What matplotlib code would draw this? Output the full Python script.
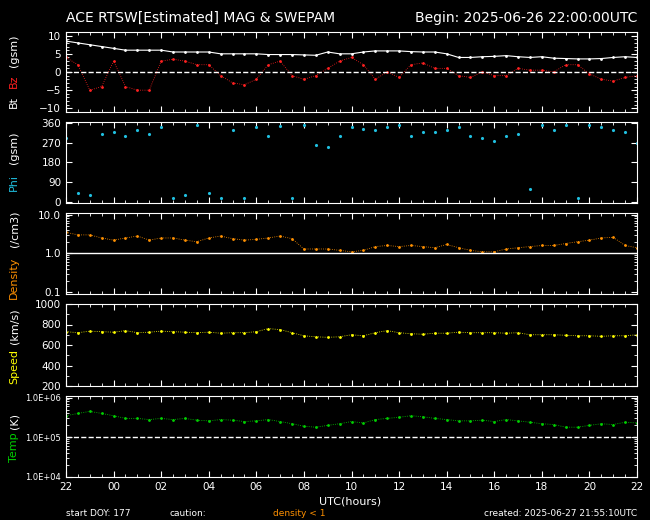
import numpy as np
import matplotlib
matplotlib.use("Agg")
import matplotlib.pyplot as plt
from matplotlib.ticker import AutoMinorLocator, LogLocator, NullFormatter

# hours since 2025-06-26 22:00 UTC, half-hour samples
HOURS = np.arange(0, 24.01, 0.5)
X_TICKS = [0, 2, 4, 6, 8, 10, 12, 14, 16, 18, 20, 22, 24]
X_LABELS = ["22", "00", "02", "04", "06", "08", "10", "12", "14", "16", "18", "20", "22"]

BT = [8.5, 8, 7.5, 7, 6.5, 6, 6, 6, 6, 5.5, 5.5, 5.5, 5.5, 5, 5, 5, 5, 4.8, 4.8, 4.8,
      4.7, 4.6, 5.5, 5, 5, 5.5, 5.8, 5.8, 5.8, 5.6, 5.5, 5.5, 5, 4, 4, 4.2, 4.3, 4.5,
      4.2, 4, 4.2, 3.8, 3.7, 3.6, 3.6, 3.7, 4, 4.2, 4]
BZ = [4, 2, -5, -4, 3, -4, -5, -5, 3, 3.5, 3, 2, 2, -1, -3, -3.5, -2, 2, 3, -1,
      -2, -1, 1, 3, 4, 2, -2, 0, -1.5, 2, 2.5, 1, 1, -1, -1.5, 0, -1, -1, 1, 0.5,
      0.5, 0, 2, 2, -0.5, -2, -2.5, -1.5, -1]
PHI = [290, 40, 30, 310, 320, 300, 330, 310, 340, 20, 30, 350, 40, 20, 330, 20, 340, 300,
       345, 20, 350, 260, 250, 300, 340, 335, 330, 340, 350, 300, 320, 320, 330, 340, 300,
       290, 280, 300, 310, 60, 350, 330, 350, 20, 350, 340, 330, 320, 270]
DENSITY = [3.5, 3, 3, 2.5, 2.2, 2.5, 2.8, 2.2, 2.5, 2.5, 2.2, 2, 2.5, 2.8, 2.4, 2.2, 2.3,
           2.5, 2.8, 2.4, 1.3, 1.3, 1.3, 1.2, 1.1, 1.2, 1.5, 1.6, 1.5, 1.6, 1.5, 1.4, 1.7,
           1.4, 1.2, 1.1, 1.1, 1.3, 1.4, 1.5, 1.6, 1.6, 1.8, 2.0, 2.2, 2.5, 2.6, 1.6, 1.4]
SPEED = [730, 720, 735, 730, 725, 740, 720, 725, 735, 730, 725, 720, 725, 715, 720, 720,
         730, 760, 750, 720, 690, 680, 675, 680, 700, 690, 720, 740, 720, 710, 705, 715,
         715, 725, 720, 720, 720, 715, 720, 700, 700, 700, 695, 690, 690, 685, 690, 690, 700]
TEMP = [3.5e5, 4e5, 4.5e5, 4e5, 3.5e5, 3e5, 3e5, 2.8e5, 3e5, 2.8e5, 3e5, 2.7e5, 2.6e5,
        2.8e5, 2.7e5, 2.5e5, 2.6e5, 2.8e5, 2.5e5, 2.2e5, 1.9e5, 1.8e5, 2e5, 2.2e5, 2.5e5,
        2.3e5, 2.8e5, 3e5, 3.2e5, 3.5e5, 3.3e5, 3e5, 2.8e5, 2.6e5, 2.6e5, 2.7e5, 2.5e5,
        2.8e5, 2.6e5, 2.4e5, 2.2e5, 2.1e5, 1.8e5, 1.8e5, 2e5, 2.2e5, 2.1e5, 2.4e5, 2.3e5]

W, H = 650, 520
fig = plt.figure(figsize=(6.5, 5.2), dpi=100, facecolor="black")
plt.rcParams["font.family"] = "DejaVu Sans"

def make_ax(top, bottom):
    ax = fig.add_axes([66 / W, 1 - bottom / H, (637 - 66) / W, (bottom - top) / H])
    ax.set_facecolor("black")
    for s in ax.spines.values():
        s.set_color("white")
    ax.set_xlim(0, 24)
    ax.set_xticks(X_TICKS)
    ax.xaxis.set_minor_locator(AutoMinorLocator(4))
    ax.tick_params(colors="white", which="both", direction="in", top=True, right=True,
                   labelsize=7.5, length=4)
    ax.tick_params(which="minor", length=2)
    ax.set_xticklabels([])
    return ax

def ylabel(parts, y_mid):
    # stacked vertical label made of coloured pieces
    widths = [len(t) * 6.3 for t, _ in parts]
    gap = 8
    y = y_mid + (sum(widths) + gap * (len(parts) - 1)) / 2
    for (txt, col), w in zip(parts, widths):
        fig.text(14 / W, 1 - y / H, txt, color=col, rotation=90, fontsize=8,
                 va="bottom", ha="center")
        y -= w + gap

red, cyan, orange, yellow, green = "#ff2020", "#20c0e0", "#ff9000", "#ffff00", "#00d000"

ax1 = make_ax(32, 112)
ax1.plot(HOURS, BT, color="white", lw=0.8, marker=".", ms=2)
ax1.plot(HOURS, BZ, color=red, lw=0.6, marker=".", ms=2, ls=":")
ax1.axhline(0, color="white", ls="--", lw=1)
ax1.set_ylim(-11, 11)
ax1.set_yticks([-10, -5, 0, 5, 10])
ax1.yaxis.set_minor_locator(AutoMinorLocator(5))
ylabel([("Bt", "white"), ("Bz", red), ("(gsm)", "white")], 72)

ax2 = make_ax(122, 203)
ax2.plot(HOURS, PHI, ".", color=cyan, ms=2.5)
ax2.set_ylim(-5, 365)
ax2.set_yticks([0, 90, 180, 270, 360])
ylabel([("Phi", cyan), ("(gsm)", "white")], 162)

ax3 = make_ax(213, 294)
ax3.plot(HOURS, DENSITY, color=orange, lw=0.6, marker=".", ms=2, ls=":")
ax3.set_yscale("log")
ax3.set_ylim(0.09, 11)
ax3.axhline(1.0, color="white", lw=1)
ax3.set_yticks([0.1, 1.0, 10.0])
ax3.set_yticklabels(["0.1", "1.0", "10.0"])
ax3.yaxis.set_minor_locator(LogLocator(subs=np.arange(2, 10)))
ax3.yaxis.set_minor_formatter(NullFormatter())
ylabel([("Density", orange), ("(/cm3)", "white")], 254)

ax4 = make_ax(304, 386)
ax4.plot(HOURS, SPEED, color=yellow, lw=0.6, marker=".", ms=2, ls=":")
ax4.set_ylim(200, 1000)
ax4.set_yticks([200, 400, 600, 800, 1000])
ax4.yaxis.set_minor_locator(AutoMinorLocator(2))
ylabel([("Speed", yellow), ("(km/s)", "white")], 345)

ax5 = make_ax(396, 477)
ax5.plot(HOURS, TEMP, color=green, lw=0.6, marker=".", ms=2, ls=":")
ax5.set_yscale("log")
ax5.set_ylim(1e4, 1.1e6)
ax5.axhline(1e5, color="white", ls="--", lw=1)
ax5.set_yticks([1e4, 1e5, 1e6])
ax5.set_yticklabels(["1.0E+04", "1.0E+05", "1.0E+06"], fontsize=6)
ax5.yaxis.set_minor_locator(LogLocator(subs=np.arange(2, 10)))
ax5.yaxis.set_minor_formatter(NullFormatter())
ax5.set_xticklabels(X_LABELS)
ylabel([("Temp", green), ("(K)", "white")], 436)

fig.text(66 / W, 1 - 18 / H, "ACE RTSW[Estimated] MAG & SWEPAM", color="white", fontsize=10, va="center")
fig.text(637 / W, 1 - 18 / H, "Begin: 2025-06-26 22:00:00UTC", color="white", fontsize=10,
         va="center", ha="right")
fig.text(350 / W, 1 - 502 / H, "UTC(hours)", color="white", fontsize=8, ha="center", va="center")
fig.text(66 / W, 1 - 513 / H, "start DOY: 177", color="white", fontsize=6.5, va="center")
fig.text(170 / W, 1 - 513 / H, "caution:", color="white", fontsize=6.5, va="center")
fig.text(273 / W, 1 - 513 / H, "density < 1", color=orange, fontsize=6.5, va="center")
fig.text(637 / W, 1 - 513 / H, "created: 2025-06-27 21:55:10UTC", color="white", fontsize=6.5,
         va="center", ha="right")

fig.savefig("out.png", dpi=100, facecolor="black")
